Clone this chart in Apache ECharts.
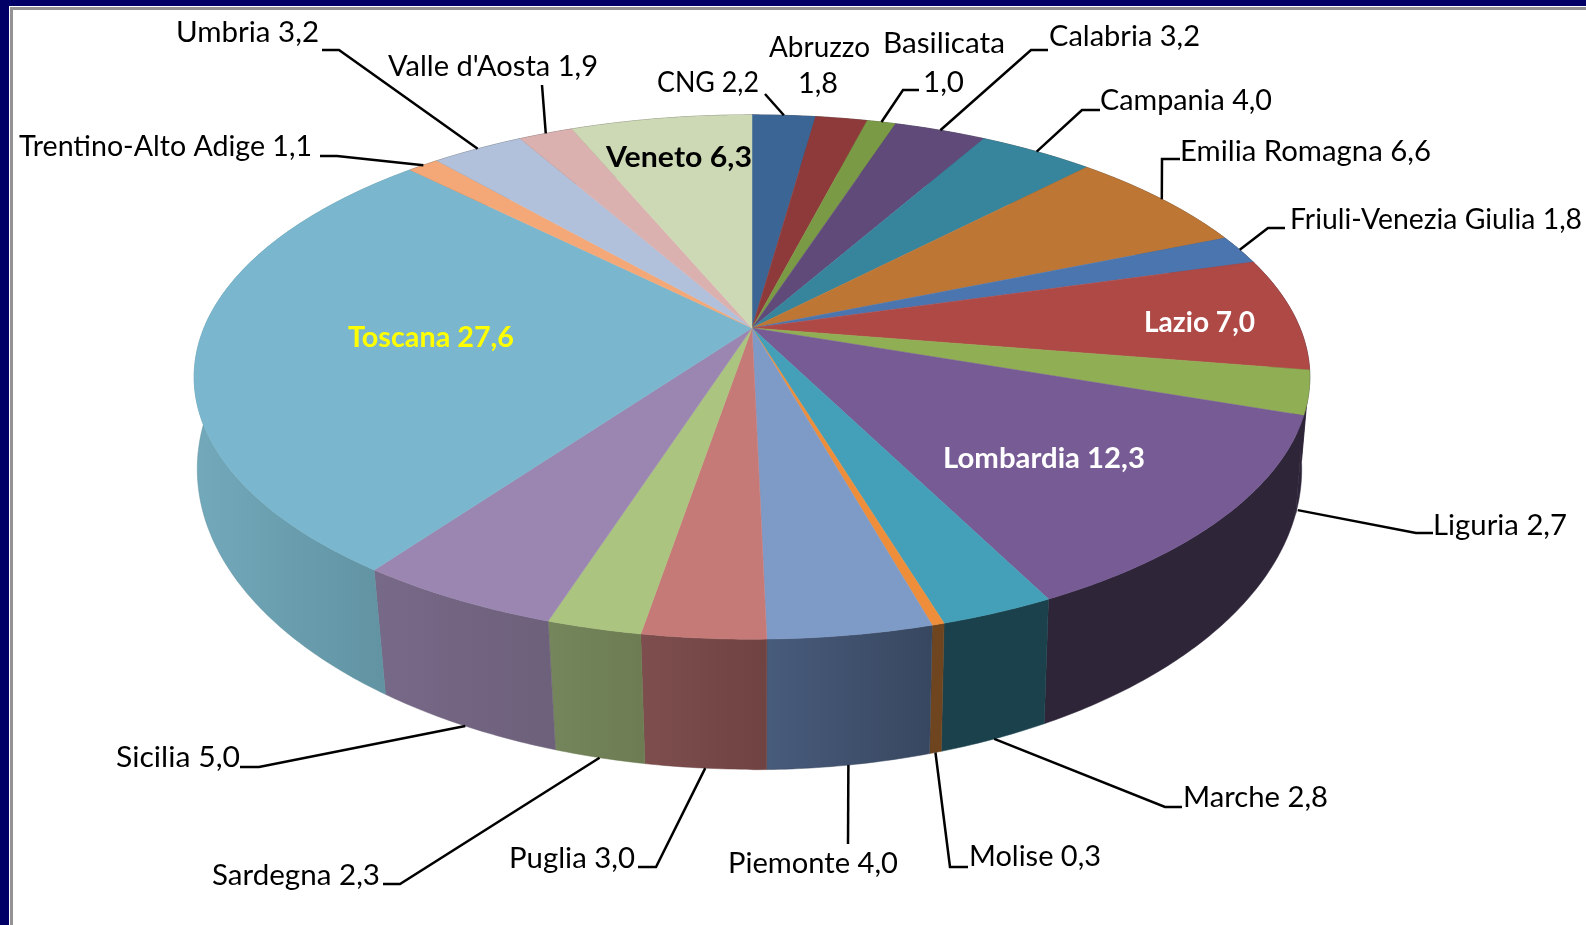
<!DOCTYPE html>
<html>
<head>
<meta charset="utf-8">
<title>Regioni</title>
<script src="https://cdn.jsdelivr.net/npm/echarts@6/dist/echarts.min.js"></script>
<style>
  html, body { margin: 0; padding: 0; background: #fff; }
  #main { width: 1586px; height: 925px; }
</style>
</head>
<body>
<div id="main"></div>
<script>
// clockwise from 12 o'clock
var regions = ['CNG', 'Abruzzo', 'Basilicata', 'Calabria', 'Campania', 'Emilia Romagna',
  'Friuli-Venezia Giulia', 'Lazio', 'Liguria', 'Lombardia', 'Marche', 'Molise', 'Piemonte',
  'Puglia', 'Sardegna', 'Sicilia', 'Toscana', 'Trentino-Alto Adige', 'Umbria', "Valle d'Aosta", 'Veneto'];
var values = [2.2, 1.8, 1.0, 3.2, 4.0, 6.6, 1.8, 7.0, 2.7, 12.3, 2.8, 0.3, 4.0, 3.0, 2.3, 5.0, 27.6, 1.1, 3.2, 1.9, 6.3];

var topColors = ['#3a6594', '#8e3a3a', '#7a9a45', '#5f4a7a', '#37859c', '#be7634', '#4a75ae', '#af4946',
  '#90ae54', '#775b95', '#43a0b8', '#ee8e3b', '#7e9ac6', '#c67a78', '#abc47f', '#9a86b0', '#7ab6cd',
  '#f4a877', '#b1c1db', '#dbb1b0', '#cdd9b4'];
// left and right colour of the rim, the back ones are never seen
var wallColors = {
  Lazio: ['#2e2539', '#2e2539'],
  Liguria: ['#2e2539', '#2e2539'],
  Lombardia: ['#2e2539', '#2e2539'],
  Marche: ['#1b424c', '#1b424c'],
  Molise: ['#6e451e', '#6e451e'],
  Piemonte: ['#475b7b', '#384760'],
  Puglia: ['#7d4e4d', '#6f4342'],
  Sardegna: ['#75865c', '#6d7c52'],
  Sicilia: ['#776988', '#6d607a'],
  Toscana: ['#72a9bb', '#5f909f']
};

// the disc seen in perspective: top face and bottom face
// the bottom face of the picture is not symmetric, so it has a left and a right half
var topFace = { cx: 752, cy: 328, rx: 548, ry: 253, k: 0.187 };
var bottomFace = {
  right: { cx: 752, cy: 413, rx: 540, ry: 290, k: 0.187 },
  left: { cx: 752, cy: 422.5, rx: 548, ry: 293, k: 0.155 }
};

// label boxes: [left, right, middle y], one per text line
var labelBoxes = {
  'CNG': [[657, 759, 83]],
  'Abruzzo': [[769, 870, 48], [798, 838, 84]],
  'Basilicata': [[883, 1005, 44], [923, 964, 83]],
  'Calabria': [[1049, 1200, 37]],
  'Campania': [[1100, 1272, 101]],
  'Emilia Romagna': [[1180, 1431, 152]],
  'Friuli-Venezia Giulia': [[1290, 1582, 220]],
  'Lazio': [[1144, 1255, 323]],
  'Liguria': [[1433, 1567, 526]],
  'Lombardia': [[943, 1145, 459]],
  'Marche': [[1183, 1328, 798]],
  'Molise': [[969, 1101, 857]],
  'Piemonte': [[728, 898, 864]],
  'Puglia': [[509, 635, 859]],
  'Sardegna': [[212, 380, 876]],
  'Sicilia': [[116, 240, 758]],
  'Toscana': [[348, 514, 338]],
  'Trentino-Alto Adige': [[19, 312, 147]],
  'Umbria': [[176, 319, 33]],
  "Valle d'Aosta": [[388, 598, 67]],
  'Veneto': [[606, 752, 158]]
};
// inner labels are bold
var boldLabels = { 'Veneto': '#000', 'Toscana': '#ffff00', 'Lazio': '#fff', 'Lombardia': '#fff' };
// leader lines: points from the label towards the slice, the slice end is computed
var leaders = {
  'CNG': [[765, 94]],
  'Basilicata': [[919, 90], [903, 90]],
  'Calabria': [[1048, 50], [1031, 50]],
  'Campania': [[1100, 110], [1082, 110]],
  'Emilia Romagna': [[1180, 159], [1162, 159]],
  'Friuli-Venezia Giulia': [[1285, 228], [1268, 228]],
  'Liguria': [[1433, 533], [1416, 533]],
  'Marche': [[1182, 807], [1165, 807]],
  'Molise': [[968, 867], [950, 867]],
  'Piemonte': [[848, 844]],
  'Puglia': [[638, 867], [656, 867]],
  'Sardegna': [[383, 884], [400, 884]],
  'Sicilia': [[240, 767], [259, 767]],
  'Trentino-Alto Adige': [[320, 156], [337, 156]],
  'Umbria': [[322, 50], [339, 50]],
  "Valle d'Aosta": [[542, 85]]
};
var leaderNudge = { 'Liguria': [-3, 23], 'Piemonte': [-1, 0] };

var total = values.reduce(function (a, b) { return a + b; }, 0);
var starts = [];
values.reduce(function (sum, v, i) { starts[i] = sum; return sum + v; }, 0);

function project(face, angle) {
  var u = Math.sin(angle), v = -Math.cos(angle);
  if (face.left) {
    face = u < 0 ? face.left : face.right;
  }
  var d = 1 - face.k * v;
  return [face.cx + face.rx * u / d, face.cy + face.ry * v / d];
}
function toAngle(share) {
  return share / total * Math.PI * 2;
}
function arc(face, a0, a1) {
  var n = Math.max(2, Math.ceil((a1 - a0) / 0.01));
  var pts = [];
  for (var i = 0; i <= n; i++) {
    pts.push(project(face, a0 + (a1 - a0) * i / n));
  }
  return pts;
}

var measure = document.createElement('canvas').getContext('2d');
function labelText(i) {
  return regions[i] + ' ' + values[i].toFixed(1).replace('.', ',');
}

function renderWall(params, api) {
  var i = params.dataIndex;
  var a0 = toAngle(starts[i]), a1 = toAngle(starts[i] + api.value(0));
  var pts = arc(topFace, a0, a1).concat(arc(bottomFace, a0, a1).reverse());
  var c = wallColors[regions[i]] || ['#444', '#444'];
  return {
    type: 'polygon',
    shape: { points: pts },
    style: {
      fill: new echarts.graphic.LinearGradient(0, 0, 1, 0, [
        { offset: 0, color: c[0] }, { offset: 1, color: c[1] }
      ]),
      stroke: c[1],
      lineWidth: 0.5
    }
  };
}

function renderTop(params, api) {
  var i = params.dataIndex;
  var a0 = toAngle(starts[i]), a1 = toAngle(starts[i] + api.value(0));
  var pts = [[topFace.cx, topFace.cy]].concat(arc(topFace, a0, a1));
  return {
    type: 'polygon',
    shape: { points: pts },
    style: { fill: topColors[i], stroke: topColors[i], lineWidth: 0.5 }
  };
}

function renderLabel(params, api) {
  var i = params.dataIndex;
  var name = regions[i];
  var children = [];
  var mid = toAngle(starts[i] + api.value(0) / 2);

  if (leaders[name]) {
    // front slices end on the lower rim
    var end = project(Math.cos(mid) < 0 ? bottomFace : topFace, mid);
    var nudge = leaderNudge[name] || [0, 0];
    children.push({
      type: 'polyline',
      shape: { points: leaders[name].concat([[end[0] + nudge[0], end[1] + nudge[1]]]) },
      style: { fill: null, stroke: '#000', lineWidth: 2.5 }
    });
  }

  var boxes = labelBoxes[name];
  var lines = boxes.length > 1 ? [name, values[i].toFixed(1).replace('.', ',')] : [labelText(i)];
  var font = (boldLabels[name] ? 'bold ' : '') + '28px Lato';
  measure.font = font;
  lines.forEach(function (line, n) {
    var box = boxes[n];
    children.push({
      type: 'text',
      x: box[0],
      y: box[2],
      scaleX: (box[1] - box[0]) / measure.measureText(line).width,
      style: {
        text: line,
        font: font,
        fill: boldLabels[name] || '#000',
        textAlign: 'left',
        textVerticalAlign: 'middle'
      }
    });
  });
  return { type: 'group', children: children };
}

var chart = echarts.init(document.getElementById('main'), null, { renderer: 'canvas' });
var seriesData = values.map(function (v, i) { return { name: regions[i], value: [v] }; });

chart.setOption({
  animation: false,
  backgroundColor: '#fff',
  graphic: [
    { type: 'rect', shape: { x: 0, y: 0, width: 1586, height: 6 }, style: { fill: '#000066' }, z: 10 },
    { type: 'rect', shape: { x: 0, y: 0, width: 9, height: 925 }, style: { fill: '#000066' }, z: 10 },
    { type: 'rect', shape: { x: 10, y: 7, width: 1576, height: 3 }, style: { fill: '#939393' }, z: 10 },
    { type: 'rect', shape: { x: 10, y: 7, width: 3, height: 918 }, style: { fill: '#939393' }, z: 10 }
  ],
  series: [
    { type: 'custom', coordinateSystem: 'none', renderItem: renderWall, data: seriesData, z: 1 },
    { type: 'custom', coordinateSystem: 'none', renderItem: renderTop, data: seriesData, z: 2 },
    { type: 'custom', coordinateSystem: 'none', renderItem: renderLabel, data: seriesData, z: 3 }
  ]
});
</script>
</body>
</html>
